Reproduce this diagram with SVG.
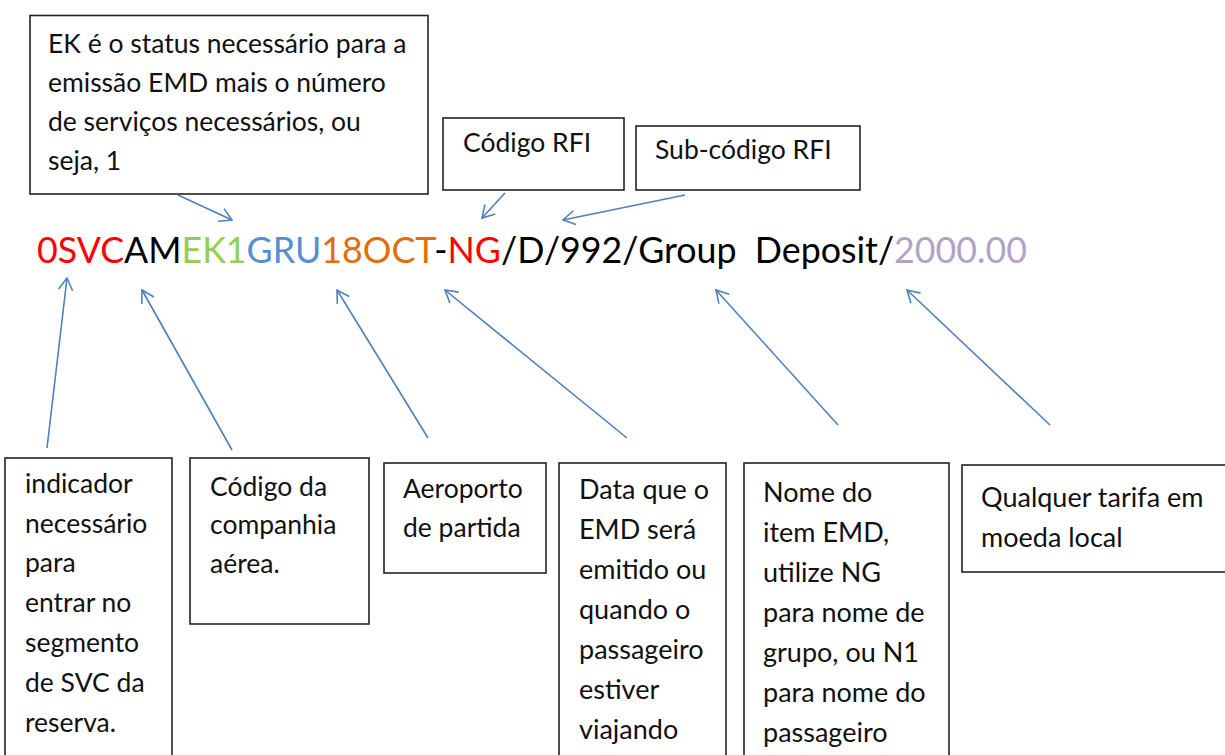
<svg xmlns="http://www.w3.org/2000/svg" width="1225" height="755" viewBox="0 0 1225 755">
<style>
.box{fill:#fff;stroke:#222;stroke-width:1.6}
.t{font-family:Lato,"Open Sans","Liberation Sans",sans-serif;font-size:26.5px;fill:#111}
.t2{font-family:Lato,"Open Sans","Liberation Sans",sans-serif;font-size:27px;fill:#111}
.code{font-family:Lato,"Open Sans","Liberation Sans",sans-serif;font-size:37px}
.arr{stroke:#4F81BD;stroke-width:1.6;fill:none;marker-end:url(#ah)}
</style>
<defs>
<marker id="ah" viewBox="0 0 14 16" refX="13" refY="8" markerWidth="14" markerHeight="16" markerUnits="userSpaceOnUse" orient="auto">
<path d="M1,1 L13,8 L1,15" fill="none" stroke="#4F81BD" stroke-width="1.6"/>
</marker>
</defs>
<rect width="1225" height="755" fill="#fff"/>

<g id="code-line">
<text class="code" x="37" y="263" xml:space="preserve" textLength="990" lengthAdjust="spacingAndGlyphs"><tspan fill="#FF0000">0SVC</tspan><tspan fill="#000">AM</tspan><tspan fill="#92D050">EK1</tspan><tspan fill="#558ED5">GRU</tspan><tspan fill="#E46C0A">18OCT</tspan><tspan fill="#000">-</tspan><tspan fill="#FF0000">NG</tspan><tspan fill="#000">/D/992/Group  Deposit/</tspan><tspan fill="#B3A2C7">2000.00</tspan></text>
</g>

<g id="connectors">
<line class="arr" x1="178" y1="195" x2="232" y2="220"/>
<line class="arr" x1="505" y1="193" x2="482" y2="218"/>
<line class="arr" x1="685" y1="195" x2="563" y2="220"/>
<line class="arr" x1="47" y1="448" x2="67" y2="278"/>
<line class="arr" x1="232" y1="450" x2="142" y2="290"/>
<line class="arr" x1="428" y1="438" x2="337" y2="290"/>
<line class="arr" x1="627" y1="438" x2="445" y2="290"/>
<line class="arr" x1="838" y1="425" x2="716" y2="290"/>
<line class="arr" x1="1050" y1="425" x2="907" y2="290"/>
</g>

<g id="node-ek">
<rect class="box" x="30" y="15.5" width="398" height="178.5"/>
<text class="t" x="48" y="53">EK é o status necessário para a</text>
<text class="t" x="48" y="92">emissão EMD mais o número</text>
<text class="t" x="48" y="131">de serviços necessários, ou</text>
<text class="t" x="48" y="170">seja, 1</text>
</g>

<g id="node-rfi">
<rect class="box" x="443" y="118" width="181" height="72"/>
<text class="t" x="463" y="152">Código RFI</text>
</g>

<g id="node-subrfi">
<rect class="box" x="636" y="126" width="224" height="64"/>
<text class="t" x="655" y="159">Sub-código RFI</text>
</g>

<g id="node-indicador">
<rect class="box" x="5" y="458" width="167" height="310"/>
<text class="t" x="25" y="493">indicador</text>
<text class="t" x="25" y="533">necessário</text>
<text class="t" x="25" y="572">para</text>
<text class="t" x="25" y="612">entrar no</text>
<text class="t" x="25" y="652">segmento</text>
<text class="t" x="25" y="692">de SVC da</text>
<text class="t" x="25" y="732">reserva.</text>
</g>

<g id="node-companhia">
<rect class="box" x="190" y="458" width="179" height="166"/>
<text class="t" x="210" y="496">Código da</text>
<text class="t" x="210" y="534">companhia</text>
<text class="t" x="210" y="573">aérea.</text>
</g>

<g id="node-aeroporto">
<rect class="box" x="384" y="463" width="162" height="110"/>
<text class="t" x="403" y="498">Aeroporto</text>
<text class="t" x="403" y="537">de partida</text>
</g>

<g id="node-data">
<rect class="box" x="559" y="463" width="167" height="310"/>
<text class="t2" x="579" y="499">Data que o</text>
<text class="t2" x="579" y="539">EMD será</text>
<text class="t2" x="579" y="579">emitido ou</text>
<text class="t2" x="579" y="619">quando o</text>
<text class="t2" x="579" y="659">passageiro</text>
<text class="t2" x="579" y="699">estiver</text>
<text class="t2" x="579" y="739">viajando</text>
</g>

<g id="node-nome">
<rect class="box" x="744" y="463" width="205" height="310"/>
<text class="t2" x="763" y="502">Nome do</text>
<text class="t2" x="763" y="542">item EMD,</text>
<text class="t2" x="763" y="582">utilize NG</text>
<text class="t2" x="763" y="622">para nome de</text>
<text class="t2" x="763" y="662">grupo, ou N1</text>
<text class="t2" x="763" y="702">para nome do</text>
<text class="t2" x="763" y="742">passageiro</text>
</g>

<g id="node-tarifa">
<rect class="box" x="962" y="465" width="270" height="107"/>
<text class="t2" x="981" y="507">Qualquer tarifa em</text>
<text class="t2" x="981" y="547">moeda local</text>
</g>
</svg>
